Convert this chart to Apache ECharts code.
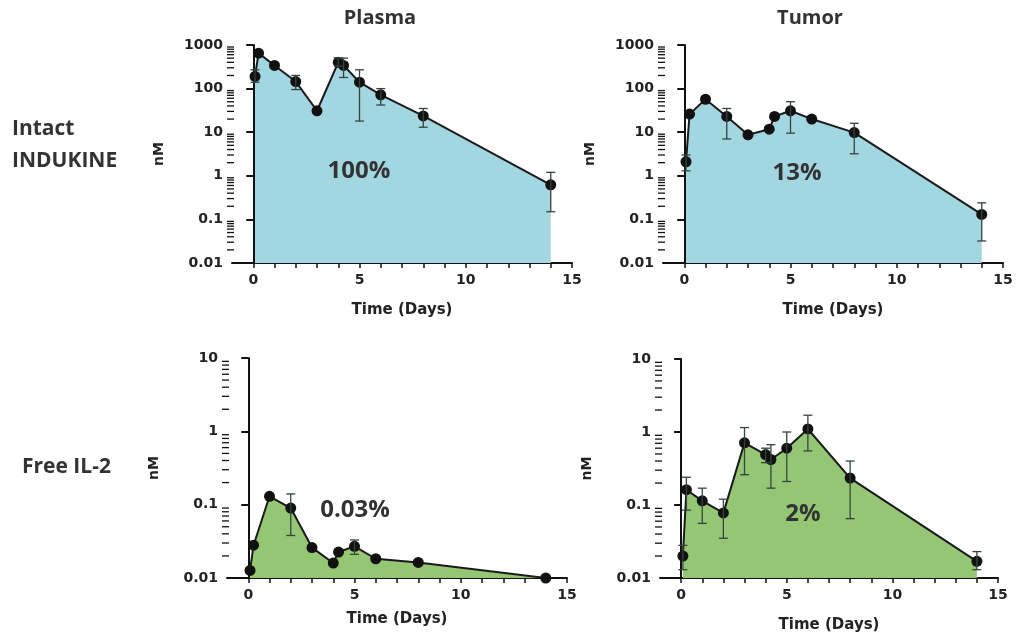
<!DOCTYPE html>
<html>
<head>
<meta charset="utf-8">
<script src="https://cdn.jsdelivr.net/npm/echarts@6/dist/echarts.min.js"></script>
<style>
  html, body { margin: 0; padding: 0; background: #fff; }
</style>
</head>
<body>
<div id="chart" style="width:1016px;height:644px;"></div>
<script>
// sampling times (days)
var days = [0.083, 0.25, 1, 2, 3, 4, 4.25, 5, 6, 8, 14];

// intact INDUKINE, plasma
var plasmaIntact = [190, 650, 340, 145, 31, 400, 340, 140, 72, 23.6, 0.62];
var plasmaIntactLow = [140, null, null, 95, null, 330, 180, 18, 42, 13, 0.15];
var plasmaIntactHigh = [270, null, null, 200, null, 510, 500, 270, 100, 35, 1.2];

// intact INDUKINE, tumor
var tumorIntact = [2.1, 26, 57, 23, 8.7, 11.7, 23, 31, 20, 9.8, 0.13];
var tumorIntactLow = [1.3, null, null, 7, null, null, null, 9.5, null, 3.2, 0.032];
var tumorIntactHigh = [3, null, null, 35, null, null, null, 50, null, 16, 0.24];

// free IL-2, plasma
var plasmaFree = [0.0127, 0.028, 0.13, 0.09, 0.026, 0.016, 0.0226, 0.027, 0.0183, 0.0163, 0.01];
var plasmaFreeLow = [null, null, null, 0.038, null, null, null, 0.021, null, null, null];
var plasmaFreeHigh = [null, null, null, 0.14, null, null, null, 0.033, null, null, null];

// free IL-2, tumor
var tumorFree = [0.020, 0.162, 0.114, 0.078, 0.71, 0.49, 0.42, 0.6, 1.1, 0.234, 0.0169];
var tumorFreeLow = [0.013, 0.085, 0.056, 0.035, 0.26, 0.38, 0.17, 0.21, 0.55, 0.065, 0.013];
var tumorFreeHigh = [0.028, 0.24, 0.17, 0.12, 1.15, 0.6, 0.67, 1.0, 1.7, 0.4, 0.023];

var xTicks = [0, 1, 2, 3, 4, 5, 6, 7, 8, 9, 10, 11, 12, 13, 14, 15];
var xLabels = [0, 5, 10, 15];

var blue = "#a2d6e0";
var green = "#94c673";
var tickFont = "DejaVu Sans";

var myChart = echarts.init(document.getElementById("chart"));

function pairs(ys) {
  var out = [];
  for (var i = 0; i < days.length; i++) out.push([days[i], ys[i]]);
  return out;
}

function errData(lo, hi) {
  var out = [];
  for (var i = 0; i < days.length; i++) {
    if (lo[i] != null) out.push([days[i], lo[i], hi[i]]);
  }
  return out;
}

// minor tick positions of a log axis (2..9 x 10^k)
function minorTicks(minExp, maxExp) {
  var out = [];
  for (var k = minExp; k < maxExp; k++) {
    for (var m = 2; m <= 9; m++) out.push([-1, m * Math.pow(10, k)]);
  }
  return out;
}

function errRender(params, api) {
  var x = api.value(0);
  var lo = api.coord([x, api.value(1)]);
  var hi = api.coord([x, api.value(2)]);
  var w = 4.5;
  var st = { stroke: "#34453f", lineWidth: 1.3 };
  return {
    type: "group",
    children: [
      { type: "line", shape: { x1: lo[0], y1: lo[1], x2: hi[0], y2: hi[1] }, style: st },
      { type: "line", shape: { x1: lo[0] - w, y1: lo[1], x2: lo[0] + w, y2: lo[1] }, style: st },
      { type: "line", shape: { x1: hi[0] - w, y1: hi[1], x2: hi[0] + w, y2: hi[1] }, style: st }
    ]
  };
}

function minorRender(params, api) {
  var p = api.coord([api.value(0), api.value(1)]);
  return {
    type: "line",
    shape: { x1: p[0] - 5, y1: p[1], x2: p[0] + 2, y2: p[1] },
    style: { stroke: "#111", lineWidth: 1.3 }
  };
}

var grids = [
  { left: 232, top: 45, width: 340, height: 218 },
  { left: 663, top: 45, width: 340, height: 218 },
  { left: 227, top: 358, width: 340, height: 220 },
  { left: 660, top: 359, width: 338, height: 219 }
];

function xAxisFor(i, gap) {
  return {
    gridIndex: i,
    type: "value",
    min: -1,
    max: 15,
    name: "Time (Days)",
    nameLocation: "middle",
    nameGap: gap,
    nameTextStyle: { fontFamily: tickFont, fontWeight: "bold", fontSize: 15, color: "#222" },
    axisLine: { onZero: false, lineStyle: { color: "#111", width: 2 } },
    axisTick: { customValues: xTicks, length: 5, lineStyle: { color: "#111", width: 1.5 } },
    axisLabel: {
      customValues: xLabels,
      margin: 10,
      fontFamily: tickFont,
      fontWeight: "bold",
      fontSize: 14,
      color: "#222"
    },
    splitLine: { show: false }
  };
}

function yAxisFor(i, max) {
  return {
    gridIndex: i,
    type: "log",
    logBase: 10,
    min: 0.01,
    max: max,
    interval: 1,
    name: "nM",
    nameLocation: "middle",
    nameGap: 66,
    nameTextStyle: { fontFamily: tickFont, fontWeight: "bold", fontSize: 14, color: "#222" },
    axisLine: { show: true, lineStyle: { color: "#111", width: 2 } },
    axisTick: { show: true, length: 7, lineStyle: { color: "#111", width: 2 } },
    axisLabel: {
      margin: 9,
      fontFamily: tickFont,
      fontWeight: "bold",
      fontSize: 14,
      color: "#222",
      formatter: function (v) { return String(+Number(v).toPrecision(4)); }
    },
    splitLine: { show: false }
  };
}

var panels = [
  { y: plasmaIntact, lo: plasmaIntactLow, hi: plasmaIntactHigh, fill: blue, top: 3 },
  { y: tumorIntact, lo: tumorIntactLow, hi: tumorIntactHigh, fill: blue, top: 3 },
  { y: plasmaFree, lo: plasmaFreeLow, hi: plasmaFreeHigh, fill: green, top: 1 },
  { y: tumorFree, lo: tumorFreeLow, hi: tumorFreeHigh, fill: green, top: 1 }
];

var series = [];
panels.forEach(function (p, i) {
  series.push({
    type: "custom",
    xAxisIndex: i,
    yAxisIndex: i,
    renderItem: minorRender,
    data: minorTicks(-2, p.top),
    clip: false,
    silent: true,
    z: 4
  });
  series.push({
    type: "line",
    xAxisIndex: i,
    yAxisIndex: i,
    data: pairs(p.y),
    symbol: "circle",
    symbolSize: 11,
    itemStyle: { color: "#111" },
    lineStyle: { color: "#1a1a1a", width: 2 },
    areaStyle: { color: p.fill, opacity: 1, origin: "start" },
    z: 2
  });
  series.push({
    type: "custom",
    xAxisIndex: i,
    yAxisIndex: i,
    renderItem: errRender,
    encode: { x: 0, y: [1, 2] },
    data: errData(p.lo, p.hi),
    z: 3
  });
});

function label(text, x, y, size, align) {
  return {
    type: "text",
    x: x,
    y: y,
    style: {
      text: text,
      fontFamily: "Open Sans",
      fontWeight: "bold",
      fontSize: size,
      fill: "#333",
      align: align || "center",
      verticalAlign: "middle"
    },
    z: 10
  };
}

var option = {
  animation: false,
  backgroundColor: "#fff",
  grid: grids,
  xAxis: [xAxisFor(0, 40), xAxisFor(1, 40), xAxisFor(2, 34), xAxisFor(3, 40)],
  yAxis: [yAxisFor(0, 1000), yAxisFor(1, 1000), yAxisFor(2, 10), yAxisFor(3, 10)],
  series: series,
  graphic: [
    label("Plasma", 380, 18, 20),
    label("Tumor", 810, 18, 20),
    label("Intact", 12, 129, 21, "left"),
    label("INDUKINE", 12, 161, 21, "left"),
    label("Free IL-2", 22, 467, 21, "left"),
    label("100%", 359, 171, 24),
    label("13%", 797, 173, 24),
    label("0.03%", 355, 510, 24),
    label("2%", 803, 514, 24)
  ]
};

myChart.setOption(option);
</script>
</body>
</html>
